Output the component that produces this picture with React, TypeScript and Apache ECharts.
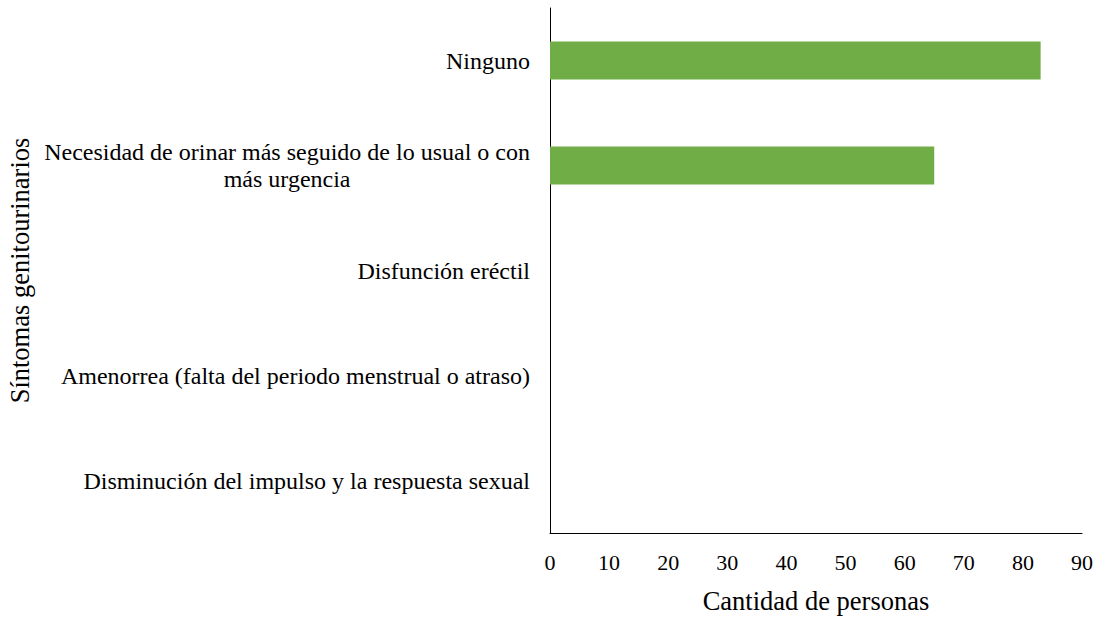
import React, { useEffect, useRef } from "react";
import * as echarts from "echarts";

const categories = [
  "Disminución del impulso y la respuesta sexual",
  "Amenorrea (falta del periodo menstrual o atraso)",
  "Disfunción eréctil",
  "Necesidad de orinar más seguido de lo usual o con\nmás urgencia",
  "Ninguno",
];
const values = [0, 0, 0, 65, 83];
const xTicks = { min: 0, max: 90, interval: 10 };

const FONT = "Liberation Serif";
const FS_CAT = 24;
const FS_TICK = 22;
const FS_NAME = 26.5;

export default function App() {
  const ref = useRef<HTMLDivElement>(null);
  useEffect(() => {
    if (!ref.current) return;
    const chart = echarts.init(ref.current, undefined, { renderer: "svg" });
    chart.setOption({
      animation: false,
      backgroundColor: "#ffffff",
      textStyle: { fontFamily: FONT },
      grid: { left: 550, right: 19, top: 8, bottom: 83, containLabel: false },
      xAxis: {
        type: "value",
        min: xTicks.min,
        max: xTicks.max,
        interval: xTicks.interval,
        name: "Cantidad de personas",
        nameLocation: "middle",
        nameGap: 54,
        nameTextStyle: { fontFamily: FONT, fontSize: FS_NAME, color: "#000" },
        axisLine: { show: true, lineStyle: { color: "#000", width: 1 } },
        axisTick: { show: false },
        splitLine: { show: false },
        axisLabel: { fontFamily: FONT, fontSize: FS_TICK, color: "#000", margin: 18 },
      },
      yAxis: {
        type: "category",
        data: categories,
        name: "Síntomas genitourinarios",
        nameLocation: "middle",
        nameGap: 517,
        nameRotate: 90,
        nameTextStyle: { fontFamily: FONT, fontSize: FS_NAME, color: "#000" },
        axisLine: { show: true, lineStyle: { color: "#000", width: 1 } },
        axisTick: { show: false },
        axisLabel: {
          fontFamily: FONT,
          fontSize: FS_CAT,
          color: "#000",
          margin: 20,
          formatter: (v: string) =>
            v
              .split("\n")
              .map((l) => `{c|${l}}`)
              .join("\n"),
          rich: {
            c: { align: "center", fontFamily: FONT, fontSize: FS_CAT, color: "#000", lineHeight: 27 },
          },
        },
      },
      series: [
        {
          type: "bar",
          data: values,
          barWidth: "36%",
          itemStyle: { color: "#70AD47" },
        },
      ],
    });
    return () => chart.dispose();
  }, []);
  return <div ref={ref} style={{ width: 1101, height: 619, position: "absolute", left: 0, top: 0 }} />;
}
